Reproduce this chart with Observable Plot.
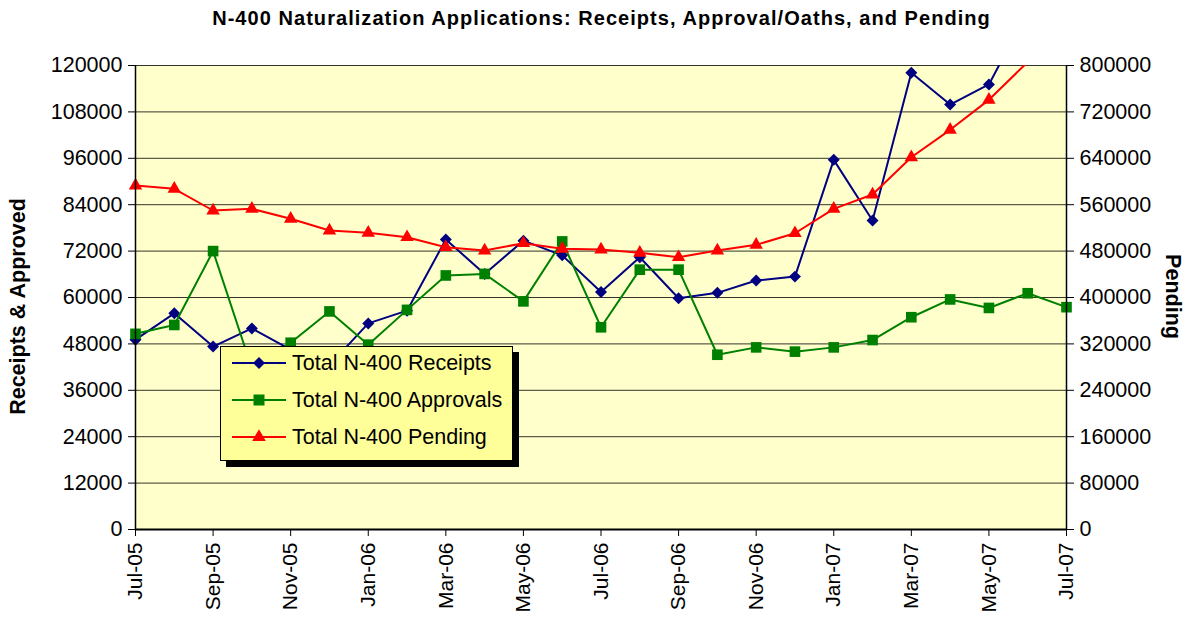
<!DOCTYPE html>
<html><head><meta charset="utf-8">
<script src="https://cdn.jsdelivr.net/npm/d3@7"></script>
<script src="https://cdn.jsdelivr.net/npm/@observablehq/plot@0.6"></script>
<style>
body{margin:0;background:#fff;font-family:"Liberation Sans",Arial,sans-serif;color:#000;}
#wrap{position:relative;width:1189px;height:618px;overflow:hidden;}
#title{height:40px;text-align:center;font-weight:bold;font-size:20px;letter-spacing:1.05px;line-height:36px;padding-left:14px;box-sizing:border-box;white-space:nowrap;}
.ylab{position:absolute;font-weight:bold;font-size:21.5px;white-space:nowrap;transform-origin:center center;}
#legend{position:absolute;left:220px;top:346px;width:291px;height:113px;background:#FFFF99;border:1px solid #000;box-shadow:6px 6px 0 #000;font-size:21.5px;}
#legend .row{position:absolute;left:0;height:30px;display:flex;align-items:center;white-space:nowrap;}
#legend svg{margin-left:11px;margin-right:6px;}
</style></head>
<body>
<div id="wrap">
  <div id="title">N-400 Naturalization Applications: Receipts, Approval/Oaths, and Pending</div>
  <div id="chart"></div>
  <div class="ylab" id="ylabL">Receipts &amp; Approved</div>
  <div class="ylab" id="ylabR">Pending</div>
  <div id="legend"></div>
</div>
<script>
const months = ["Jul-05","Aug-05","Sep-05","Oct-05","Nov-05","Dec-05","Jan-06","Feb-06","Mar-06","Apr-06","May-06","Jun-06","Jul-06","Aug-06","Sep-06","Oct-06","Nov-06","Dec-06","Jan-07","Feb-07","Mar-07","Apr-07","May-07","Jun-07","Jul-07"];
const receipts = [49100,55900,47300,52000,46500,42500,53300,56600,75000,66100,74700,70900,61400,70400,59800,61200,64400,65400,95600,79900,118100,109900,115100,134000,null];
const approvals = [50600,52900,72000,41700,48300,56400,47800,56800,65700,66100,59000,74500,52300,67200,67200,45200,47100,46000,47100,49000,54900,59500,57300,61100,57500];
const pending = [593000,587400,550000,552900,535700,515500,511500,504000,486700,481000,493600,484000,482700,477000,469500,481000,490800,510800,552900,577500,641800,689100,740800,806000,null];
const leftTicks = [0,12000,24000,36000,48000,60000,72000,84000,96000,108000,120000];
const rightTicks = [0,80000,160000,240000,320000,400000,480000,560000,640000,720000,800000];
const seriesNames = ["Total N-400 Receipts","Total N-400 Approvals","Total N-400 Pending"];
const seriesColors = ["#000080","#008000","#FF0000"];
const seriesSymbols = ["diamond2","square","triangle"];

const leftMax = 120000, rightMax = 800000, k = leftMax / rightMax;
const rows = (arr, scale) => arr.map((v, i) => ({i, v: v == null ? null : v * scale, raw: v})).filter(d => d.v != null);
const R = rows(receipts, 1), A = rows(approvals, 1), P = rows(pending, k);
const xTicks = months.map((m, i) => i).filter(i => i % 2 === 0);
const inRange = d => d.v <= leftMax;

const chart = Plot.plot({
  width: 1189, height: 578,
  marginTop: 25, marginBottom: 89, marginLeft: 135, marginRight: 123,
  style: {fontFamily: "Liberation Sans, Arial, sans-serif", fontSize: "21.5px", color: "#000", background: "transparent", overflow: "visible"},
  x: {type: "linear", domain: [0, months.length - 1]},
  y: {domain: [0, leftMax]},
  marks: [
    Plot.frame({fill: "#FFFFCC", stroke: null}),
    Plot.gridY(leftTicks, {stroke: "#000", strokeOpacity: 0.8, strokeWidth: 1}),
    Plot.line(R, {x: "i", y: "v", stroke: seriesColors[0], strokeWidth: 2, clip: true}),
    Plot.dot(R.filter(inRange), {x: "i", y: "v", symbol: () => seriesSymbols[0], fill: seriesColors[0], stroke: null, r: 5.4}),
    Plot.line(A, {x: "i", y: "v", stroke: seriesColors[1], strokeWidth: 2, clip: true}),
    Plot.dot(A.filter(inRange), {x: "i", y: "v", symbol: () => seriesSymbols[1], fill: seriesColors[1], stroke: null, r: 6}),
    Plot.line(P, {x: "i", y: "v", stroke: seriesColors[2], strokeWidth: 2, clip: true}),
    Plot.dot(P.filter(inRange), {x: "i", y: "v", symbol: () => seriesSymbols[2], fill: seriesColors[2], stroke: null, r: 5}),
    Plot.ruleX([0, months.length - 1], {stroke: "#000", strokeWidth: 1.5}),
    Plot.ruleY([0], {stroke: "#000", strokeWidth: 2}),
    Plot.axisY(leftTicks, {anchor: "left", tickSize: 7, tickPadding: 6, tickFormat: d => String(d), label: null}),
    Plot.axisY(rightTicks.map(d => d * k), {anchor: "right", tickSize: 7, tickPadding: 6, tickFormat: d => String(Math.round(d / k)), label: null}),
    Plot.axisX(xTicks, {anchor: "bottom", tickRotate: -90, tickSize: 7, tickPadding: 6, fontSize: 21, tickFormat: i => months[i], label: null})
  ]
});
document.getElementById("chart").appendChild(chart);

// axis titles
const L = document.getElementById("ylabL");
L.style.left = (18 - L.offsetWidth / 2) + "px";
L.style.top = (306 - L.offsetHeight / 2) + "px";
L.style.transform = "rotate(-90deg)";
const Rr = document.getElementById("ylabR");
Rr.style.left = (1172 - Rr.offsetWidth / 2) + "px";
Rr.style.top = (296 - Rr.offsetHeight / 2) + "px";
Rr.style.transform = "rotate(90deg)";

// legend
const leg = document.getElementById("legend");
const sym = {diamond2: d3.symbolDiamond2, square: d3.symbolSquare, triangle: d3.symbolTriangle};
const symSize = {diamond2: 92, square: 121, triangle: 80};
seriesNames.forEach((name, j) => {
  const row = document.createElement("div");
  row.className = "row";
  row.style.top = (1 + j * 37) + "px";
  const s = d3.create("svg").attr("width", 54).attr("height", 20);
  s.append("line").attr("x1", 0).attr("x2", 54).attr("y1", 10).attr("y2", 10).attr("stroke", seriesColors[j]).attr("stroke-width", 2);
  s.append("path").attr("d", d3.symbol(sym[seriesSymbols[j]], symSize[seriesSymbols[j]])()).attr("transform", "translate(27,10)").attr("fill", seriesColors[j]);
  row.appendChild(s.node());
  const t = document.createElement("span");
  t.textContent = name;
  row.appendChild(t);
  leg.appendChild(row);
});
</script>
</body></html>
